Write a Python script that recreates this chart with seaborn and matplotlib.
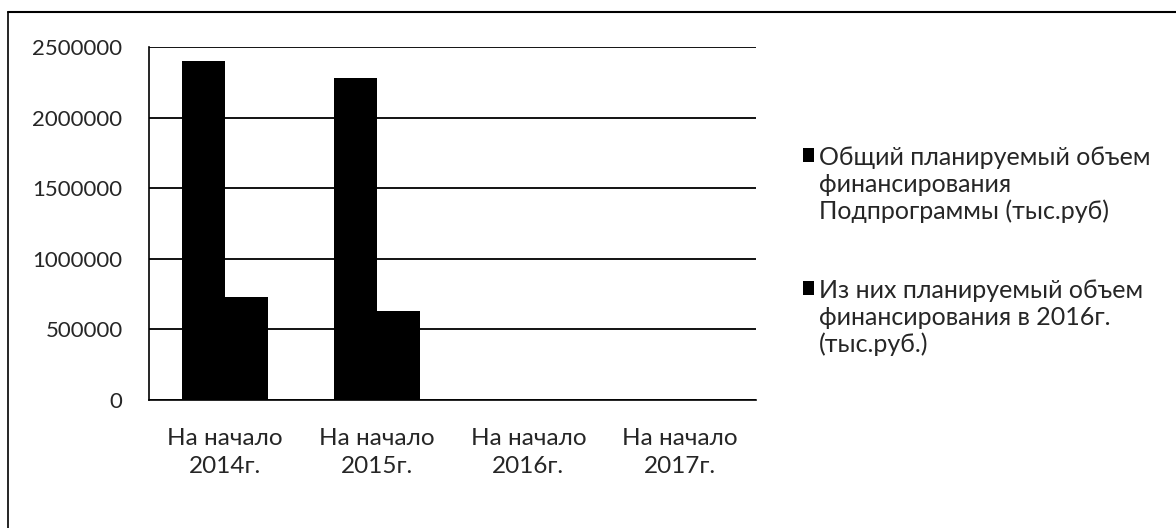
import numpy as np
import pandas as pd
import seaborn as sns
import matplotlib.pyplot as plt
from matplotlib.lines import Line2D
from matplotlib.patches import Patch
from matplotlib.legend_handler import HandlerPatch
from matplotlib.ticker import StrMethodFormatter

categories = ["На начало\n2014г.", "На начало\n2015г.", "На начало\n2016г.", "На начало\n2017г."]
series = [
    "Общий планируемый объем\nфинансирования\nПодпрограммы (тыс.руб)",
    "Из них планируемый объем\nфинансирования в 2016г.\n(тыс.руб.)",
]
total_plan = [2400000, 2280000, 0, 0]
plan_2016 = [730000, 630000, 0, 0]
colors = ["#000000", "#000000"]

df = pd.DataFrame({
    "cat": categories * 2,
    "series": [series[0]] * 4 + [series[1]] * 4,
    "value": total_plan + plan_2016,
})

sns.set_style("white")
plt.rcParams["font.family"] = ["Lato", "DejaVu Sans"]

LEG_FS = 18


# legend square next to the first line of a multi-line label
class TopPatch(HandlerPatch):
    def create_artists(self, legend, orig_handle, xdescent, ydescent, width, height, fontsize, trans):
        shift = fontsize * 1.2
        return super().create_artists(legend, orig_handle, xdescent, ydescent - shift,
                                      width, height, fontsize, trans)


fig = plt.figure(figsize=(11.76, 5.28), dpi=100)
ax = fig.add_axes([149 / 1176, 1 - 400 / 528, (756 - 149) / 1176, (400 - 47) / 528])

sns.barplot(data=df, x="cat", y="value", hue="series", order=categories,
            hue_order=series, palette=colors, width=0.566,
            saturation=1, edgecolor="none", linewidth=0, ax=ax, zorder=3, legend=False)

ax.set_xlim(-0.5, 3.5)
ax.set_ylim(0, 2500000)
ax.set_yticks(np.arange(0, 2500001, 500000))
ax.yaxis.set_major_formatter(StrMethodFormatter("{x:.0f}"))
ax.grid(axis="y", color="black", linewidth=1.3, zorder=0)
ax.set_axisbelow(True)

ax.set_xticks([-0.5, 0.5, 1.5, 2.5, 3.5])
ax.set_xticklabels([])
ax.set_xticks(range(4), minor=True)
ax.set_xticklabels(categories, minor=True, fontsize=17.5, linespacing=1.42)
ax.tick_params(axis="x", which="major", direction="out", length=6, width=1.2, color="black")
ax.tick_params(axis="x", which="minor", length=0, pad=20)
ax.tick_params(axis="y", direction="out", length=6, width=1.2, color="black", labelsize=16, pad=13)
ax.set_xlabel("")
ax.set_ylabel("")

for s in ["top", "right"]:
    ax.spines[s].set_visible(False)
for s in ["left", "bottom"]:
    ax.spines[s].set_color("black")
    ax.spines[s].set_linewidth(1.2)

handles = [Patch(facecolor=c, edgecolor="none") for c in colors]
leg = ax.legend(handles, series, loc="upper left", bbox_to_anchor=(803 / 1176, 1 - 146 / 528),
                bbox_transform=fig.transFigure, frameon=False, fontsize=LEG_FS,
                handlelength=0.45, handleheight=0.5, handletextpad=0.2,
                labelspacing=2.22, borderaxespad=0, borderpad=0,
                handler_map={Patch: TopPatch()})

# outer chart frame
fig.add_artist(Line2D([8 / 1176, 1], [1 - 12 / 528, 1 - 12 / 528], color="black", lw=1.5))
fig.add_artist(Line2D([8 / 1176, 8 / 1176], [0, 1 - 12 / 528], color="black", lw=1.2))

fig.savefig("out.png", dpi=100)
